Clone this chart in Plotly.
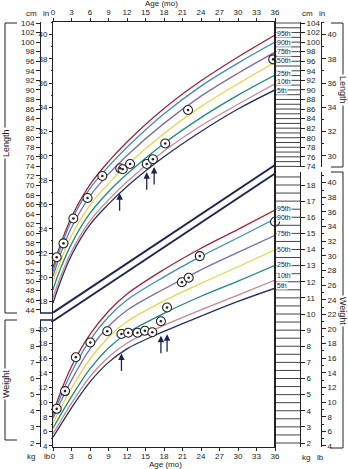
import plotly.graph_objects as go

W, H = 348, 469

# ---------------- data ----------------
ages = [0, 1, 3, 6, 9, 12, 18, 24, 30, 36]
pct_names = ["95th", "90th", "75th", "50th", "25th", "10th", "5th"]
pct_colors = ["#9e2439", "#3f8db5", "#7b6ea6", "#e4d64c", "#1f8a7c", "#c98790", "#262f62"]

length_95 = [52.9, 56.9, 63.4, 70.2, 75.0, 79.1, 86.1, 91.9, 96.9, 101.5]
length_90 = [52.0, 56.1, 62.7, 69.4, 74.0, 78.0, 85.0, 90.8, 95.6, 100.0]
length_75 = [51.0, 54.9, 61.2, 67.8, 72.4, 76.3, 83.0, 88.7, 93.5, 97.9]
length_50 = [49.9, 53.5, 59.5, 65.9, 70.4, 74.3, 80.9, 86.5, 91.3, 95.8]
length_25 = [48.2, 51.9, 57.8, 64.2, 68.7, 72.4, 78.8, 84.2, 88.9, 93.1]
length_10 = [46.5, 50.2, 56.2, 62.6, 67.0, 70.8, 77.2, 82.5, 87.0, 91.3]
length_5 = [45.4, 49.2, 55.4, 61.8, 66.1, 69.8, 76.0, 81.3, 86.0, 90.0]

weight_95 = [3.81, 4.92, 6.74, 8.73, 10.17, 11.24, 12.76, 14.08, 15.25, 16.45]
weight_90 = [3.64, 4.65, 6.39, 8.38, 9.83, 10.87, 12.30, 13.57, 14.73, 15.90]
weight_75 = [3.52, 4.36, 5.90, 7.83, 9.24, 10.23, 11.55, 12.74, 13.82, 14.88]
weight_50 = [3.23, 3.98, 5.40, 7.21, 8.56, 9.53, 10.82, 11.90, 12.93, 13.98]
weight_25 = [2.93, 3.59, 4.88, 6.60, 7.89, 8.81, 10.04, 11.10, 12.04, 13.02]
weight_10 = [2.58, 3.22, 4.47, 6.12, 7.34, 8.19, 9.30, 10.26, 11.17, 12.10]
weight_5 = [2.36, 2.97, 4.18, 5.79, 7.00, 7.84, 8.92, 9.87, 10.78, 11.60]

patient_length_age = [0.6, 1.7, 3.3, 5.6, 8.0, 10.9, 11.3, 12.5, 15.2, 16.2, 18.2, 21.9, 35.7]
patient_length_cm = [55.0, 57.9, 63.1, 67.4, 72.0, 73.6, 73.4, 74.5, 74.5, 75.5, 78.8, 85.8, 96.4]

patient_weight_age = [0.6, 1.95, 3.7, 6.05, 8.8, 11.1, 12.2, 13.7, 14.9, 16.1, 17.5, 18.5, 20.9, 22.0, 23.8, 36.0]
patient_weight_kg = [4.12, 5.22, 7.32, 8.23, 8.93, 8.76, 8.84, 8.84, 8.96, 8.87, 9.55, 10.40, 11.97, 12.25, 13.59, 15.72]

length_arrow_age = [10.8, 15.2, 16.4]
length_arrow_cm = [68.4, 72.8, 73.9]
weight_arrow_age = [11.1, 17.5, 18.5]
weight_arrow_kg = [7.55, 8.65, 8.75]

month_ticks = list(range(0, 37, 3))
length_label_cm = [101.9, 100.0, 98.04, 96.05, 93.44, 91.66, 89.88]
weight_label_kg = [16.54, 15.98, 15.02, 14.03, 13.04, 12.36, 11.74]

# ---------------- geometry helpers ----------------
def PX(p):
    return p / W


def PY(p):
    return 1 - p / H


def cm_at(p):
    return 104 - (p - 23) / 4.78


def kg_at(p):
    return 2 + (443 - p) / 16.125


INK = "#222222"
NAVY = "#1d2452"
FONT = "Liberation Sans, Arial, sans-serif"

fig = go.Figure()

length_sets = [length_95, length_90, length_75, length_50, length_25, length_10, length_5]
weight_sets = [weight_95, weight_90, weight_75, weight_50, weight_25, weight_10, weight_5]
for name, col, vals in zip(pct_names, pct_colors, length_sets):
    fig.add_trace(go.Scatter(x=ages, y=vals, mode="lines", name=name,
                             line=dict(color=col, width=1.3, shape="spline", smoothing=1.0),
                             xaxis="x", yaxis="y", hoverinfo="skip", showlegend=False))
for name, col, vals in zip(pct_names, pct_colors, weight_sets):
    fig.add_trace(go.Scatter(x=ages, y=vals, mode="lines", name=name,
                             line=dict(color=col, width=1.3, shape="spline", smoothing=1.0),
                             xaxis="x", yaxis="y2", hoverinfo="skip", showlegend=False))

# patient points (circled dots)
for ax_name, xs, ys in [("y", patient_length_age, patient_length_cm),
                        ("y2", patient_weight_age, patient_weight_kg)]:
    fig.add_trace(go.Scatter(x=xs, y=ys, mode="markers", xaxis="x", yaxis=ax_name,
                             marker=dict(symbol="circle", size=9, color="white",
                                         line=dict(color=INK, width=1.1)),
                             hoverinfo="skip", showlegend=False, cliponaxis=False))
    fig.add_trace(go.Scatter(x=xs, y=ys, mode="markers", xaxis="x", yaxis=ax_name,
                             marker=dict(symbol="circle", size=2.6, color=INK),
                             hoverinfo="skip", showlegend=False, cliponaxis=False))

# empty traces to make the extra axes exist
extra_axes = [("x2", "y")] + [("x", "y%d" % i) for i in range(3, 11)]
for xa, ya in extra_axes:
    fig.add_trace(go.Scatter(x=[None], y=[None], xaxis=xa, yaxis=ya,
                             showlegend=False, hoverinfo="skip"))

tickfont = dict(size=8, color=INK, family=FONT)


def side_axis(top, bot, rng, pos, side, tickvals, line=True, minor=None):
    d = dict(domain=[PY(bot), PY(top)], range=rng, anchor="free", position=PX(pos),
             side=side, tickmode="array", tickvals=tickvals,
             ticktext=[str(v) for v in tickvals], ticks="outside", ticklen=4,
             tickcolor=INK, tickwidth=1, showline=line, linecolor=INK, linewidth=1,
             showgrid=False, zeroline=False, tickfont=tickfont, fixedrange=True)
    if minor is not None:
        d["minor"] = dict(tickvals=minor, ticks="outside", ticklen=2, tickcolor=INK, showgrid=False)
    return d


cm_left_rng = [cm_at(313), cm_at(22)]
kg_left_rng = [kg_at(447), kg_at(320)]
cm_right_rng = [cm_at(167), cm_at(22)]
kg_right_rng = [kg_at(447), kg_at(172)]

fig.update_layout(
    template="none",
    width=W, height=H, margin=dict(l=0, r=0, t=0, b=0),
    paper_bgcolor="white", plot_bgcolor="rgba(0,0,0,0)",
    font=dict(family=FONT, size=8, color=INK),
    showlegend=False,
    xaxis=dict(domain=[PX(53), PX(275)], range=[0, 36], tickmode="array", tickvals=month_ticks,
               ticks="outside", ticklen=3, tickcolor=INK, showline=True, linecolor=INK,
               linewidth=1, showgrid=False, zeroline=False, tickfont=tickfont, anchor="y",
               ticklabelstandoff=-2),
    xaxis2=dict(domain=[PX(53), PX(275)], range=[0, 36], overlaying="x", side="top",
                anchor="y", tickmode="array", tickvals=month_ticks, ticks="outside", ticklen=3,
                tickcolor=INK, showline=True, linecolor=INK, linewidth=1, showgrid=False,
                zeroline=False, tickfont=tickfont),
    yaxis=dict(domain=[PY(447), PY(22)], range=[cm_at(447), cm_at(22)], showline=True,
               linecolor=INK, linewidth=1, mirror=True, showticklabels=False, ticks="",
               showgrid=False, zeroline=False),
    yaxis2=dict(overlaying="y", range=[kg_at(447), kg_at(22)], visible=False),
    yaxis3=side_axis(22, 313, cm_left_rng, 40, "left", list(range(44, 105, 2))),
    yaxis4=side_axis(22, 313, [v / 2.54 for v in cm_left_rng], 53, "left",
                     list(range(18, 41, 2)), line=False, minor=list(range(17, 42, 1))),
    yaxis5=side_axis(320, 447, kg_left_rng, 40, "left", list(range(2, 10))),
    yaxis6=side_axis(320, 447, [v * 2.20462 for v in kg_left_rng], 53, "left",
                     list(range(4, 21, 2)), line=False, minor=list(range(4, 22, 1))),
    yaxis7=side_axis(22, 167, cm_right_rng, 300, "right", list(range(74, 105, 2))),
    yaxis8=side_axis(22, 167, [v / 2.54 for v in cm_right_rng], 321, "right",
                     list(range(30, 41, 2)), minor=list(range(29, 42, 1))),
    yaxis9=side_axis(172, 447, kg_right_rng, 300, "right", list(range(2, 19))),
    yaxis10=side_axis(172, 447, [v * 2.20462 for v in kg_right_rng], 321, "right",
                      list(range(4, 41, 2)), minor=list(range(4, 42, 1))),
)

shapes = []


def pline(x0, y0, x1, y1, width=1, color=INK):
    shapes.append(dict(type="line", xref="paper", yref="paper", x0=PX(x0), y0=PY(y0),
                       x1=PX(x1), y1=PY(y1), line=dict(color=color, width=width)))


# right ladder
for v in range(74, 105):
    shapes.append(dict(type="line", xref="paper", yref="y", x0=PX(275), x1=PX(300), y0=v, y1=v,
                       line=dict(color="#444", width=1)))
k = 2.0
while k <= 18.5:
    shapes.append(dict(type="line", xref="paper", yref="y2", x0=PX(275), x1=PX(300), y0=k, y1=k,
                       line=dict(color="#444", width=1)))
    k += 0.5

# heavy right border
pline(275, 22, 275, 447, width=2)
# diagonal double separator
pline(53, 312.7, 275, 165, width=2, color=NAVY)
pline(53, 321, 275, 173.5, width=2, color=NAVY)
# left axis break
pline(40, 313, 53, 313, width=1.5, color=NAVY)
pline(40, 320, 53, 320, width=1.5, color=NAVY)
# brackets left
pline(5, 23, 17, 23)
pline(5, 23, 5, 313)
pline(5, 313, 17, 313)
pline(5, 320, 17, 320)
pline(5, 320, 5, 440)
pline(5, 440, 17, 440)
# brackets right
pline(331, 23, 343, 23)
pline(343, 23, 343, 167)
pline(331, 167, 343, 167)
pline(331, 172, 343, 172)
pline(343, 172, 343, 448)
pline(331, 448, 343, 448)

fig.update_layout(shapes=shapes)

ann = []


def ptext(x, y, t, size=8, angle=0, bg=None, xanchor="center", yanchor="middle"):
    d = dict(x=PX(x), y=PY(y), xref="paper", yref="paper", text=t, showarrow=False,
             font=dict(size=size, color=INK, family=FONT), textangle=angle,
             xanchor=xanchor, yanchor=yanchor, borderpad=0)
    if bg:
        d["bgcolor"] = bg
        d["borderpad"] = 1
    ann.append(d)


ptext(161, 4, "Age (mo)", size=8)
ptext(165, 469.5, "Age (mo)", size=8, yanchor="bottom")
ptext(31, 14, "cm")
ptext(46, 14, "in")
ptext(307, 13, "cm")
ptext(322, 13, "in")
ptext(31, 456, "kg")
ptext(47, 456, "lb")
ptext(306, 457, "kg")
ptext(320, 457, "lb")
ptext(6, 143, "Length", size=9, angle=-90, bg="white")
ptext(6, 384, "Weight", size=9, angle=-90, bg="white")
ptext(343, 90, "Length", size=9, angle=90, bg="white")
ptext(343, 311, "Weight", size=9, angle=90, bg="white")

for name, v in zip(pct_names, length_label_cm):
    ann.append(dict(x=PX(276), y=v, xref="paper", yref="y", text=name, showarrow=False,
                    xanchor="left", yanchor="middle", bgcolor="white", borderpad=0,
                    font=dict(size=7, color=INK, family=FONT)))
for name, v in zip(pct_names, weight_label_kg):
    ann.append(dict(x=PX(276), y=v, xref="paper", yref="y2", text=name, showarrow=False,
                    xanchor="left", yanchor="middle", bgcolor="white", borderpad=0,
                    font=dict(size=7, color=INK, family=FONT)))

for xs, ys, yr in [(length_arrow_age, length_arrow_cm, "y"),
                   (weight_arrow_age, weight_arrow_kg, "y2")]:
    for a, v in zip(xs, ys):
        ann.append(dict(x=a, y=v, xref="x", yref=yr, text="", showarrow=True, ax=0, ay=19,
                        arrowhead=2, arrowsize=1, arrowwidth=1.3, arrowcolor=NAVY, standoff=0))

fig.update_layout(annotations=ann)

fig.write_html("out.html", config={"displayModeBar": False, "staticPlot": True},
               post_script="document.body.style.margin='0';document.body.style.padding='0';")
